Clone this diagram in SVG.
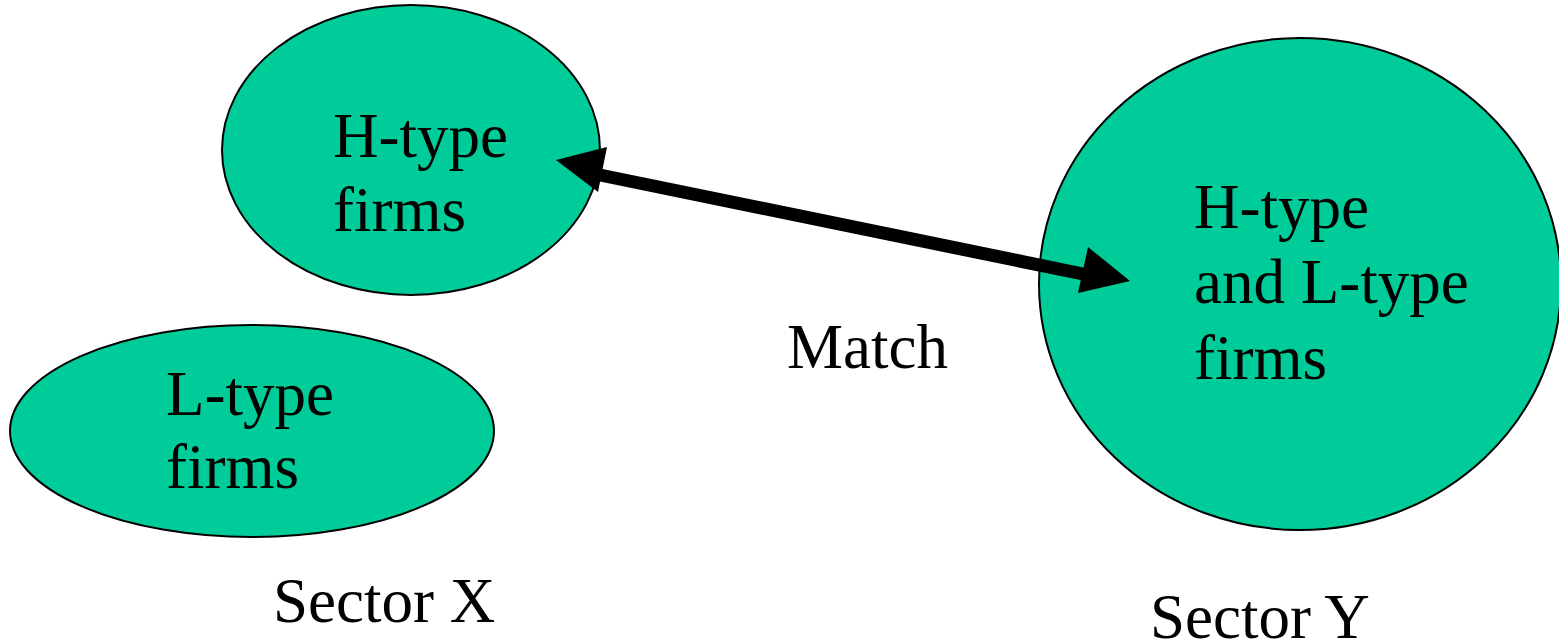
<svg xmlns="http://www.w3.org/2000/svg" width="1559" height="642" viewBox="0 0 1559 642">
<style>
.node{fill:#00CC99;stroke:#000;stroke-width:2}
.t{font-family:"Liberation Serif","Times New Roman",serif;font-size:63px;fill:#000}
</style>
<rect width="1559" height="642" fill="#fff"/>
<g id="h-firms-x">
<ellipse class="node" cx="411" cy="150" rx="189" ry="145"/>
<text class="t" x="333" y="157">H-type</text>
<text class="t" x="333" y="231">firms</text>
</g>
<g id="l-firms-x">
<ellipse class="node" cx="252" cy="431" rx="242" ry="106"/>
<text class="t" x="166" y="415">L-type</text>
<text class="t" x="166" y="488">firms</text>
</g>
<g id="hl-firms-y">
<ellipse class="node" cx="1300" cy="284" rx="261" ry="246"/>
<text class="t" x="1194" y="228">H-type</text>
<text class="t" x="1194" y="303">and L-type</text>
<text class="t" x="1194" y="379">firms</text>
</g>
<g id="connectors">
<line x1="600" y1="175" x2="1088" y2="275" stroke="#000" stroke-width="13"/>
<polygon points="556,160 607,147 598,192" fill="#000"/>
<polygon points="1130,281 1088,247 1078,293" fill="#000"/>
</g>
<g id="labels">
<text class="t" x="787" y="368">Match</text>
<text class="t" x="273" y="622">Sector X</text>
<text class="t" x="1150" y="638">Sector Y</text>
</g>
</svg>
